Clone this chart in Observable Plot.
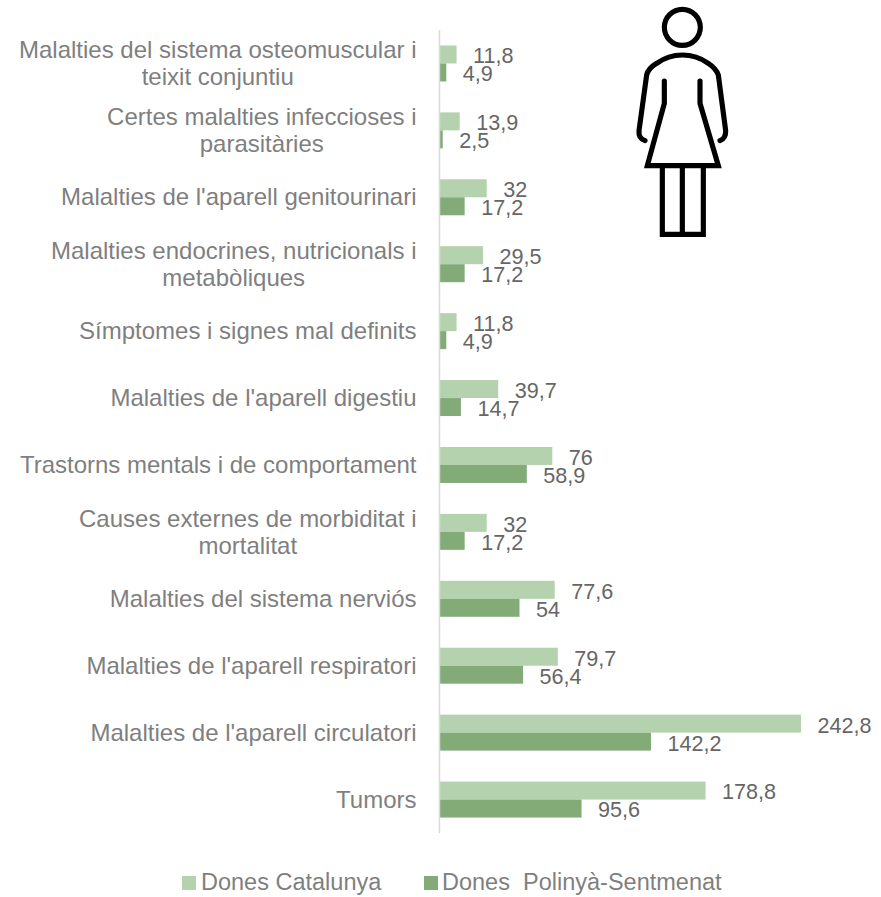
<!DOCTYPE html>
<html><head><meta charset="utf-8">
<style>
html,body{margin:0;padding:0;background:#fff}
#wrap{position:relative;width:881px;height:897px;overflow:hidden;font-family:"Liberation Sans",Arial,sans-serif}
#icon{position:absolute;left:620px;top:0;width:130px;height:250px}
#legend{position:absolute;left:0;top:868px;width:881px;height:29px;font-size:23.5px;color:#7f7f7f;white-space:pre;line-height:29px}
#legend span{position:absolute;top:0}
#legend i{position:absolute;top:8px;width:14px;height:14px}
svg{display:block}
</style>
<script src="https://cdn.jsdelivr.net/npm/d3@7"></script>
<script src="https://cdn.jsdelivr.net/npm/@observablehq/plot@0.6"></script>
</head><body>
<div id="wrap">
<div id="chart"></div>
<svg id="icon" viewBox="0 0 390 750" fill="none" stroke="#000" stroke-width="15.5">
<circle cx="187" cy="82" r="54"/>
<path stroke-linecap="round" d="M75 422Q55 415 57 392L80 225Q85 205 110 190Q145 165 187 165Q230 165 265 190Q288 205 295 225L317 392Q318 415 300 422"/>
<path stroke-linecap="round" stroke-linejoin="miter" d="M133 243L133 310L82 497L295 497L240 310L240 243"/>
<path d="M127 497L127 703L250 703L250 497M187 497L187 703"/>
</svg>
<div id="legend">
<i style="left:182px;background:#b4d2ad"></i><span style="left:201px">Dones Catalunya</span>
<i style="left:424px;background:#82ab78"></i><span style="left:442px">Dones  Polinyà-Sentmenat</span>
</div>
</div>
<script>
const categories = [
  ["Malalties del sistema osteomuscular i","teixit conjuntiu"],
  ["Certes malalties infeccioses i","parasitàries"],
  ["Malalties de l'aparell genitourinari"],
  ["Malalties endocrines, nutricionals i","metabòliques"],
  ["Símptomes i signes mal definits"],
  ["Malalties de l'aparell digestiu"],
  ["Trastorns mentals i de comportament"],
  ["Causes externes de morbiditat i","mortalitat"],
  ["Malalties del sistema nerviós"],
  ["Malalties de l'aparell respiratori"],
  ["Malalties de l'aparell circulatori"],
  ["Tumors"]
];
const donesCatalunya = [11.8,13.9,32,29.5,11.8,39.7,76,32,77.6,79.7,242.8,178.8];
const donesPolinya   = [4.9,2.5,17.2,17.2,4.9,14.7,58.9,17.2,54,56.4,142.2,95.6];
const seriesNames = ["Dones Catalunya","Dones  Polinyà-Sentmenat"];
const seriesColors = ["#b4d2ad","#82ab78"];

const keys = categories.map(c => c.join(" "));
const rows = keys.flatMap((k,i) => [
  {cat:k, series:seriesNames[0], value:donesCatalunya[i]},
  {cat:k, series:seriesNames[1], value:donesPolinya[i]}
]);

const FONT = '"Liberation Sans",Arial,sans-serif';
const LABEL_SIZE = 24;
const ctx = document.createElement("canvas").getContext("2d");
ctx.font = `${LABEL_SIZE}px "Liberation Sans"`;
const w = s => ctx.measureText(s).width;

const labelMarks = categories.flatMap((lines,i) => {
  const maxW = d3.max(lines, w);
  return lines.map((line,j) => Plot.text([{cat:keys[i], line}], {
    fy:"cat", x:() => 0, text:"line", textAnchor:"end",
    dx:-23-(maxW-w(line))/2, dy:(j-(lines.length-1)/2)*27,
    fill:"#7f7f7f", fontSize:LABEL_SIZE, fontFamily:FONT
  }));
});

const plot = Plot.plot({
  width:881, height:868,
  marginLeft:439, marginRight:80, marginTop:30, marginBottom:35,
  style:{background:"transparent", fontFamily:FONT},
  x:{domain:[0,242.8], axis:null},
  y:{domain:seriesNames, axis:null, paddingInner:0, paddingOuter:0.86, round:false},
  fy:{domain:keys, axis:null, padding:0, round:false},
  color:{domain:seriesNames, range:seriesColors},
  marks:[
    Plot.barX(rows,{fy:"cat", y:"series", x:"value", fill:"series"}),
    Plot.ruleX(keys,{fy:d=>d, x:()=>0, stroke:"#d9d9d9", strokeWidth:1.5}),
    Plot.text(rows,{fy:"cat", y:"series", x:"value", text:d=>String(d.value).replace(".",","),
      textAnchor:"start", dx:16, dy:1.5, fill:"#666666", fontSize:21.6, fontFamily:FONT}),
    ...labelMarks
  ]
});
document.getElementById("chart").append(plot);
</script>
</body></html>
